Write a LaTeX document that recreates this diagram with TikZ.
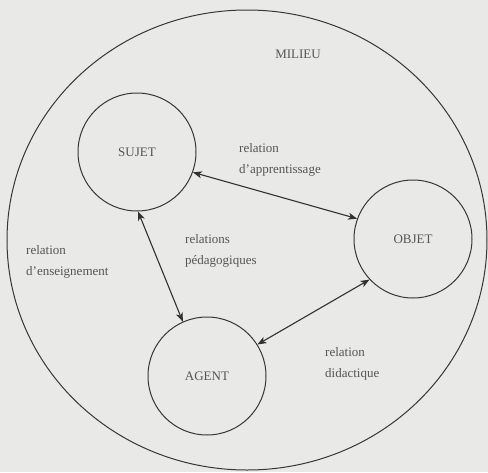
\documentclass[tikz,border=0pt]{standalone}
\usepackage{fontspec}
\setmainfont{Liberation Serif}
\usetikzlibrary{positioning,arrows,arrows.meta}

\definecolor{paper}{RGB}{233,233,231}
\definecolor{ink}{RGB}{55,55,55}
\definecolor{textgray}{RGB}{85,85,85}

\begin{document}
\begin{tikzpicture}[x=1pt,y=-1pt,draw=ink,>={Stealth[length=9pt,width=7pt,inset=2.5pt]}]
    \tikzstyle{pole}=[circle,draw=ink,line width=1pt,minimum size=118pt,inner sep=0pt,text=textgray,font=\fontsize{13}{15}\selectfont]
    \tikzstyle{annot}=[anchor=west,align=left,inner sep=0pt,text=textgray,font=\fontsize{13}{21}\selectfont]
    \tikzstyle{edge}=[<->,line width=1.1pt,draw=ink!90!black]

    \fill[paper] (0,0) rectangle (488,472);
    \useasboundingbox (0,0) rectangle (488,472);

    % milieu
    \draw[line width=1pt] (247,240) ellipse [x radius=240, y radius=230];
    \node[text=textgray,font=\fontsize{13}{15}\selectfont] (milieu) at (298,54) {MILIEU};

    \node[pole] (sujet) at (137,152) {SUJET};
    \node[pole] (objet) at (413,239) {OBJET};
    \node[pole] (agent) at (207,376) {AGENT};

    \draw[edge] (sujet.-20) -- (objet.160);
    \draw[edge] (sujet.-89) -- (agent.114);
    \draw[edge] (agent.32) -- (objet.223);

    \node[annot] (apprent) at (239,160) {relation\\d'apprentissage};
    \node[annot] (pedago) at (185,251) {relations\\pédagogiques};
    \node[annot] (enseign) at (26,262) {relation\\d'enseignement};
    \node[annot] (didact) at (325,364) {relation\\didactique};

	%\node[annot,above=of sujet] {};
\end{tikzpicture}
\end{document}
